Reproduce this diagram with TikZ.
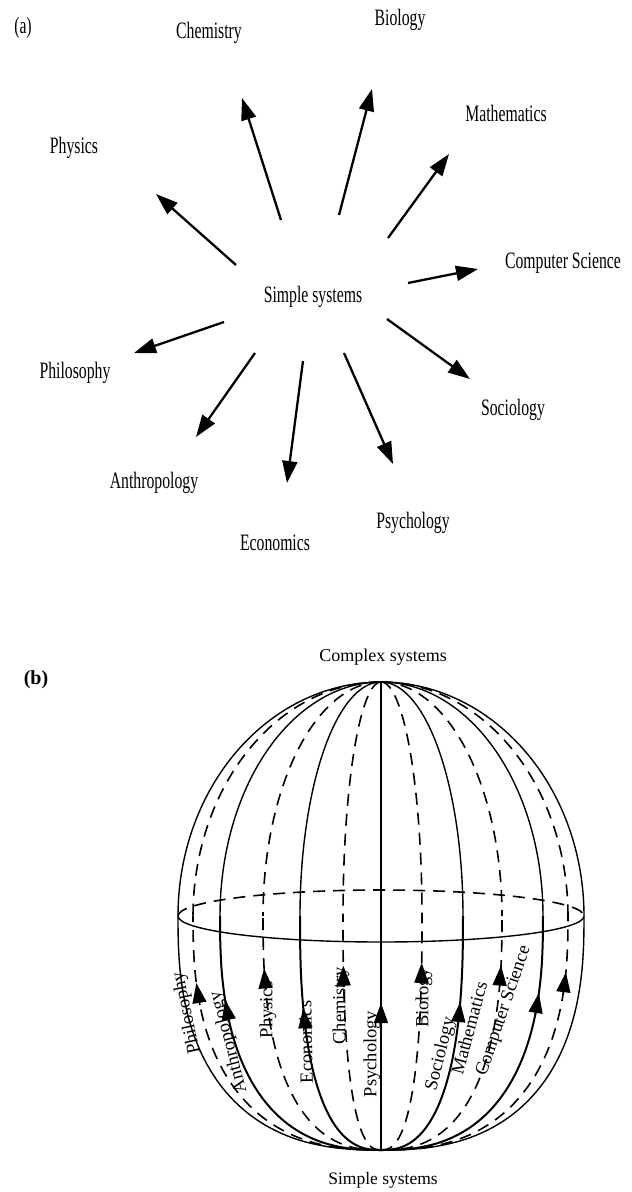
\documentclass[tikz,border=0pt]{standalone}
\usepackage{fontspec}
\usepackage{graphicx}
\setmainfont{Liberation Serif}
\usetikzlibrary{arrows.meta}
\newcommand{\cnd}[1]{\scalebox{0.67}[1]{#1}}
\begin{document}
\begin{tikzpicture}[x=1pt,y=-1pt,
  alab/.style={inner sep=0pt, font=\fontsize{23.5}{26}\selectfont},
  blab/.style={inner sep=0pt, font=\fontsize{18.5}{21}\selectfont},
  bigarrow/.style={line width=2.3pt, -{Triangle[length=22pt,width=15pt]}},
  upline/.style={line width=1.4pt},
  loline/.style={line width=2pt},
  backline/.style={line width=1.6pt, dash pattern=on 12pt off 8pt},
  harrow/.style={line width=1.5pt, -{Triangle[length=20pt,width=14pt]}}
]
\useasboundingbox (0,0) rectangle (632,1192);

% ---------------- part (a) ----------------
\node[alab] (la) at (23,28) {\cnd{(a)}};
\node[alab] (ss) at (313,297) {\cnd{Simple systems}};
\node[alab] (phy) at (74,148) {\cnd{Physics}};
\node[alab] (che) at (209,33) {\cnd{Chemistry}};
\node[alab] (bio) at (400,20) {\cnd{Biology}};
\node[alab] (mat) at (506,113) {\cnd{Mathematics}};
\node[alab] (cs) at (563,263) {\cnd{Computer Science}};
\node[alab] (phi) at (75,373) {\cnd{Philosophy}};
\node[alab] (soc) at (513,410) {\cnd{Sociology}};
\node[alab] (ant) at (154,483) {\cnd{Anthropology}};
\node[alab] (psy) at (413,523) {\cnd{Psychology}};
\node[alab] (eco) at (275,543) {\cnd{Economics}};

\coordinate (phyT) at (236,265); \coordinate (phyH) at (156,194);
\coordinate (cheT) at (281,220); \coordinate (cheH) at (242,98);
\coordinate (bioT) at (339,215); \coordinate (bioH) at (372,89);
\coordinate (matT) at (388,238); \coordinate (matH) at (449,154);
\coordinate (csT) at (408,283);  \coordinate (csH) at (478,269);
\coordinate (phiT) at (224,322); \coordinate (phiH) at (134,353);
\coordinate (antT) at (255,353); \coordinate (antH) at (196,437);
\coordinate (ecoT) at (303,361); \coordinate (ecoH) at (287,483);
\coordinate (psyT) at (344,353); \coordinate (psyH) at (393,464);
\coordinate (socT) at (387,319); \coordinate (socH) at (470,379);
\foreach \n in {phy,che,bio,mat,cs,phi,ant,eco,psy,soc}
  \draw[bigarrow] (\n T) -- (\n H);

% ---------------- part (b) ----------------
\node[inner sep=0pt, font=\fontsize{20}{22}\selectfont\bfseries] (lb) at (36,680) {(b)};
\node[inner sep=0pt, font=\fontsize{18}{20}\selectfont] (cx) at (383,657) {Complex systems};
\node[inner sep=0pt, font=\fontsize{17.5}{20}\selectfont] (sb) at (383,1180) {Simple systems};

% upper half: ellipse; lower half: superellipse (exponent 2.5)
\def\cp{exp(0.8*ln(max(cos(\t),0.00001)))}
\def\sp{exp(0.8*ln(max(sin(\t),0.00001)))}

% outline
\foreach \a in {-203,203}{
  \draw[upline] plot[domain=0:90,samples=70,variable=\t] ({381+(\a)*cos(\t)},{916-234*sin(\t)});
  \draw[upline] plot[domain=0:90,samples=70,variable=\t] ({381+(\a)*\cp},{916+234*\sp});
}
% upper solid meridians
\foreach \a in {-161,-81,0,82,162}
  \draw[upline] plot[domain=0:90,samples=60,variable=\t] ({381+(\a)*cos(\t)},{916-234*sin(\t)});
% upper dashed meridians
\foreach \a in {-188,-118,-38,41,121,187}
  \draw[backline] plot[domain=90:0,samples=60,variable=\t] ({381+(\a)*cos(\t)},{916-234*sin(\t)});
% lower solid meridians
\foreach \a in {-161,-81,0,82,162}
  \draw[loline] plot[domain=0:90,samples=60,variable=\t] ({381+(\a)*\cp},{916+234*\sp});
% lower dashed meridians
\foreach \a in {-188,-118,-38,41,121,187}
  \draw[backline] plot[domain=90:0,samples=60,variable=\t] ({381+(\a)*\cp},{916+234*\sp});

% equator
\draw[upline] (584,916) arc[start angle=0,end angle=180,x radius=203,y radius=26];
\draw[backline] (178,916) arc[start angle=180,end angle=360,x radius=203,y radius=26];

% arrows on the lower meridians
\foreach \a/\ty/\n in {-188/983/m1,-161/1000/m2,-118/968/m3,-81/1008/m4,-38/965/m5,0/1003/m6,41/962/m7,82/1002/m8,121/965/m9,162/993/m10,187/972/m11}{
  \pgfmathsetmacro\tz{asin(exp(1.25*ln((\ty-916)/234)))}
  \pgfmathsetmacro\tb{asin(exp(1.25*ln((\ty+22-916)/234)))}
  \coordinate (\n H) at ({381+(\a)*exp(0.8*ln(cos(\tz)))},{916+234*exp(0.8*ln(sin(\tz)))});
  \coordinate (\n B) at ({381+(\a)*exp(0.8*ln(cos(\tb)))},{916+234*exp(0.8*ln(sin(\tb)))});
  \draw[harrow] (\n B) -- (\n H);
}

% labels on the sphere
\node[blab,rotate=102] (bphi) at (187,1013) {Philosophy};
\node[blab,rotate=105] (bant) at (229,1042) {Anthropology};
\node[blab,rotate=90] (bphy) at (268,1010) {Physics};
\node[blab,rotate=91] (beco) at (306,1042) {Economics};
\node[blab,rotate=90] (bche) at (341,1006) {Chemistry};
\node[blab,rotate=90] (bpsy) at (372,1054) {Psychology};
\node[blab,rotate=90] (bbio) at (424,998) {Biology};
\node[blab,rotate=76] (bsoc) at (441,1054) {Sociology};
\node[blab,rotate=75] (bmat) at (469,1028) {Mathematics};
\node[blab,rotate=71] (bcs) at (504,1011) {Computer Science};
\end{tikzpicture}
\end{document}
